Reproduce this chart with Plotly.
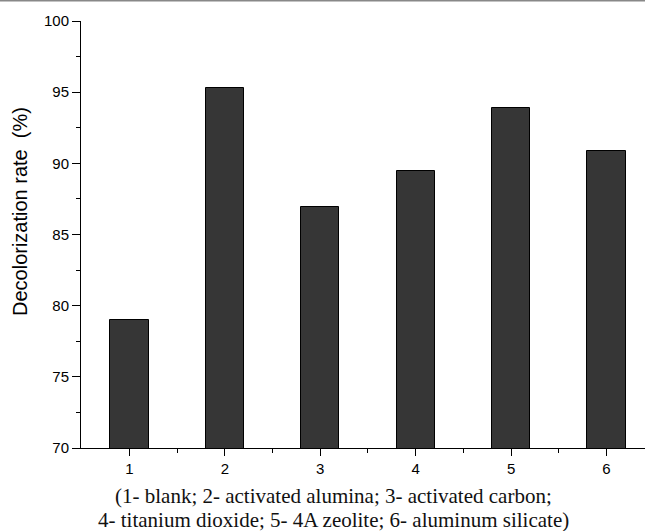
import plotly.graph_objects as go

categories = [1, 2, 3, 4, 5, 6]
decolorization = [79.0, 95.3, 86.95, 89.45, 93.9, 90.85]
y_ticks = [70, 75, 80, 85, 90, 95, 100]
y_title = "Decolorization rate  (%)"
caption_lines = [
    "(1- blank; 2- activated alumina; 3- activated carbon;",
    "4- titanium dioxide; 5- 4A zeolite; 6- aluminum silicate)",
]

W, H = 645, 531
L, R, T, B = 81, 0, 21, 83
pw = W - L - R
ph = H - T - B

fig = go.Figure()
fig.add_trace(go.Bar(
    x=categories, y=decolorization, width=0.4,
    marker=dict(color="#363636", line=dict(color="#000000", width=1)),
))

fig.update_layout(
    width=W, height=H,
    margin=dict(l=L, r=R, t=T, b=B, pad=0),
    paper_bgcolor="white", plot_bgcolor="white",
    showlegend=False,
    font=dict(family="Liberation Sans, Arial", size=15, color="#000"),
    bargap=0,
)
fig.update_xaxes(
    range=[0.492, 6.404], tickmode="array", tickvals=categories,
    ticktext=[str(c) for c in categories],
    showline=True, linecolor="#000", linewidth=1,
    ticks="outside", ticklen=7, tickwidth=1, tickcolor="#000",
    minor=dict(ticks="outside", ticklen=4, tickwidth=1, tickcolor="#000",
               tickmode="array", tickvals=[1.5, 2.5, 3.5, 4.5, 5.5]),
    showgrid=False, zeroline=False, tickfont=dict(size=15),
)
fig.update_yaxes(
    range=[70, 100], tickmode="array", tickvals=y_ticks,
    showline=True, linecolor="#000", linewidth=1,
    ticks="outside", ticklen=8, tickwidth=1, tickcolor="#000",
    minor=dict(ticks="outside", ticklen=4, tickwidth=1, tickcolor="#000",
               tickmode="array", tickvals=[72.5, 77.5, 82.5, 87.5, 92.5, 97.5]),
    showgrid=False, zeroline=False, tickfont=dict(size=15),
)

# y-axis title placed as rotated text (sits above axis centre in the reference)
fig.add_annotation(
    xref="paper", yref="paper", x=(20 - L) / pw, y=(H - B - 212) / ph,
    text=y_title, showarrow=False, textangle=-90,
    xanchor="center", yanchor="middle",
    font=dict(family="Liberation Sans, Arial", size=20, color="#000"),
)

cx = (333 - L) / pw
for i, line in enumerate(caption_lines):
    ypix = 496 + 24 * i
    fig.add_annotation(
        xref="paper", yref="paper", x=cx, y=(H - B - ypix) / ph,
        text=line, showarrow=False, xanchor="center", yanchor="middle",
        font=dict(family="Liberation Serif", size=21, color="#111"),
    )

fig.add_shape(type="line", xref="paper", yref="paper",
              x0=-L / pw, x1=1, y0=(H - B - 0.5) / ph, y1=(H - B - 0.5) / ph,
              line=dict(color="#888888", width=2))

fig.write_html("out.html")
